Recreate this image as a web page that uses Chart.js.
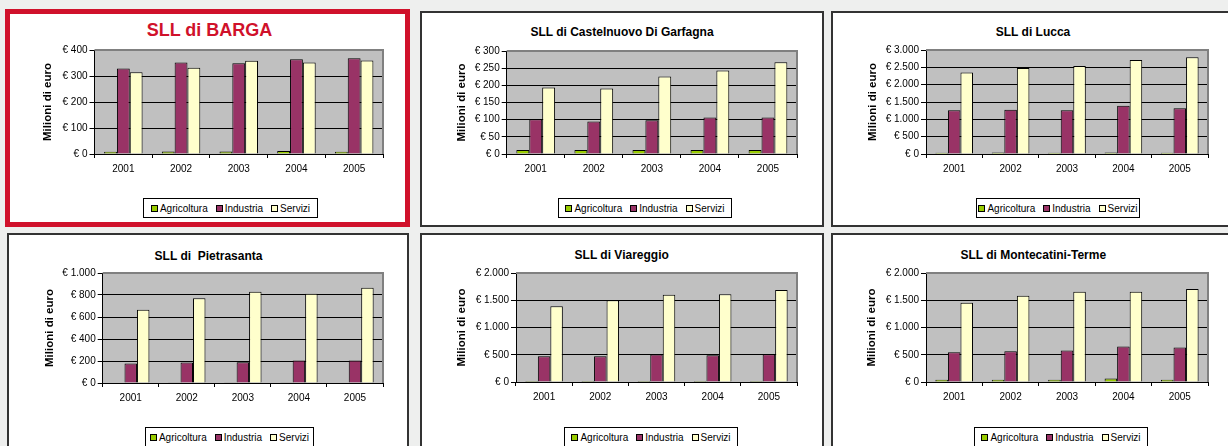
<!DOCTYPE html>
<html>
<head>
<meta charset="utf-8">
<script src="https://cdn.jsdelivr.net/npm/chart.js@4.4.0/dist/chart.umd.min.js"></script>
<style>
  body { margin: 0; background: #eeefee; width: 1228px; height: 446px; overflow: hidden; position: relative;
         font-family: "Liberation Sans", Arial, sans-serif; }
  .panel { position: absolute; box-sizing: border-box; background: #fff; border: 2px solid #333; }
  .panel.hl { border: 5px solid #d0112b; }
  .title { position: absolute; width: 320px; text-align: center; font-weight: bold; font-size: 12px;
           line-height: 14px; white-space: pre; color: #000; }
  .title.hl { color: #d0112b; font-size: 18px; line-height: 20px; }
  .legend { position: absolute; box-sizing: border-box; height: 20px; border: 1px solid #000; background: #fff;
            display: flex; align-items: center; justify-content: center; font-size: 10px; color: #000; }
  .legend .it { display: flex; align-items: center; margin: 0 4px; }
  .legend .sw { display: inline-block; width: 5px; height: 5px; border: 1px solid #000; margin-right: 2px; }
  .box { position: absolute; }
</style>
</head>
<body>
<script>
  const years = ["2001", "2002", "2003", "2004", "2005"];
  const seriesNames = ["Agricoltura", "Industria", "Servizi"];

  const bargaAgr = [9, 10, 10, 12, 9];
  const bargaInd = [329, 352, 349, 364, 368];
  const bargaSer = [314, 332, 359, 352, 360];

  const castelAgr = [12, 12, 12, 12, 12];
  const castelInd = [101, 95, 98, 106, 106];
  const castelSer = [194, 191, 226, 243, 267];

  const luccaAgr = [38, 40, 38, 42, 38];
  const luccaInd = [1264, 1273, 1264, 1389, 1322];
  const luccaSer = [2354, 2479, 2537, 2711, 2788];

  const pietraAgr = [4, 6, 6, 6, 4];
  const pietraInd = [177, 186, 189, 204, 204];
  const pietraSer = [665, 771, 829, 811, 866];

  const viaAgr = [18, 18, 18, 18, 18];
  const viaInd = [474, 474, 505, 492, 511];
  const viaSer = [1391, 1502, 1600, 1612, 1686];

  const monteAgr = [43, 43, 43, 62, 43];
  const monteInd = [548, 566, 578, 652, 634];
  const monteSer = [1452, 1582, 1655, 1655, 1705];

  const colors = ["#99cc00", "#993366", "#ffffcc"];
  const fontFamily = "'Liberation Sans', Arial, sans-serif";
  Chart.defaults.font.family = fontFamily;
  Chart.defaults.color = "#000";

  // panel frames: left, top, width, height
  const panels = [
    { r: [5, 9, 405, 218], hl: true },
    { r: [420, 11, 404, 216] },
    { r: [831, 11, 410, 216] },
    { r: [7, 233, 402, 240] },
    { r: [420, 233, 404, 240] },
    { r: [831, 233, 410, 240] },
  ];

  const charts = [
    { title: "SLL di BARGA", hl: true, series: [bargaAgr, bargaInd, bargaSer], max: 400, step: 100,
      plot: [94.5, 50, 383, 153.7], yTitleX: 48.3, titleX: 209.5, titleY: 20, legend: [143, 198, 175] },
    { title: "SLL di Castelnuovo Di Garfagna", series: [castelAgr, castelInd, castelSer], max: 300, step: 50,
      plot: [506.7, 51, 796.7, 153.7], yTitleX: 461.7, titleX: 622, titleY: 24.5, legend: [558, 198, 174] },
    { title: "SLL di Lucca", series: [luccaAgr, luccaInd, luccaSer], max: 3000, step: 500,
      plot: [926, 50, 1208.3, 153.7], yTitleX: 873.3, titleX: 1033, titleY: 24.5, legend: [976, 198, 164] },
    { title: "SLL di  Pietrasanta", series: [pietraAgr, pietraInd, pietraSer], max: 1000, step: 200,
      plot: [102.7, 273.3, 382.7, 382.7], yTitleX: 50, titleX: 208.5, titleY: 249, legend: [145, 427, 169] },
    { title: "SLL di Viareggio", series: [viaAgr, viaInd, viaSer], max: 2000, step: 500,
      plot: [516, 273.3, 797.3, 381.7], yTitleX: 461.7, titleX: 621.7, titleY: 248, legend: [564, 427, 174] },
    { title: "SLL di Montecatini-Terme", series: [monteAgr, monteInd, monteSer], max: 2000, step: 500,
      plot: [926, 273.3, 1208.3, 381.7], yTitleX: 871.7, titleX: 1033.3, titleY: 248, legend: [974, 427, 174] },
  ];

  const euro = (v) => "€ " + String(v).replace(/\B(?=(\d{3})+(?!\d))/g, ".");

  const plotFrame = {
    id: "plotFrame",
    beforeDraw(chart) {
      const { ctx, chartArea: a } = chart;
      ctx.save();
      ctx.fillStyle = "#c0c0c0";
      ctx.fillRect(a.left, a.top, a.right - a.left, a.bottom - a.top);
      ctx.restore();
    },
    afterDraw(chart) {
      const { ctx, chartArea: a } = chart;
      ctx.save();
      ctx.strokeStyle = "#808080";
      ctx.lineWidth = 2;
      ctx.beginPath();
      ctx.moveTo(a.left, a.top);
      ctx.lineTo(a.right, a.top);
      ctx.lineTo(a.right, a.bottom);
      ctx.stroke();
      ctx.restore();
    },
  };

  const add = (cls, css, text) => {
    const el = document.createElement("div");
    el.className = cls;
    Object.assign(el.style, css);
    if (text !== undefined) el.textContent = text;
    document.body.appendChild(el);
    return el;
  };

  panels.forEach((p) => {
    const [x, y, w, h] = p.r;
    add("panel" + (p.hl ? " hl" : ""), { left: x + "px", top: y + "px", width: w + "px", height: h + "px" });
  });

  charts.forEach((c) => {
    add("title" + (c.hl ? " hl" : ""), { left: c.titleX - 160 + "px", top: c.titleY + "px" }, c.title);

    const [lx, ly, lw] = c.legend;
    const lg = add("legend", { left: lx + "px", top: ly + "px", width: lw + "px" });
    seriesNames.forEach((name, i) => {
      const it = document.createElement("span");
      it.className = "it";
      const sw = document.createElement("span");
      sw.className = "sw";
      sw.style.background = colors[i];
      it.appendChild(sw);
      it.appendChild(document.createTextNode(name));
      lg.appendChild(it);
    });

    const [L, T, R, B] = c.plot;
    const x0 = Math.round(c.yTitleX - 7);
    const y0 = Math.round(T - 8);
    const w = Math.round(R + 4 - x0);
    const h = Math.round(B - y0 + 24);
    const yW = L - x0;
    const box = add("box", { left: x0 + "px", top: y0 + "px", width: w + "px", height: h + "px" });
    const canvas = document.createElement("canvas");
    box.appendChild(canvas);

    new Chart(canvas, {
      type: "bar",
      data: {
        labels: years,
        datasets: seriesNames.map((name, i) => ({
          label: name,
          data: c.series[i],
          backgroundColor: colors[i],
          borderColor: "#000",
          borderWidth: 1,
          categoryPercentage: 0.667,
          barPercentage: 1,
        })),
      },
      options: {
        responsive: true,
        maintainAspectRatio: false,
        animation: false,
        layout: { padding: { left: 0, right: 4, top: 8, bottom: 0 } },
        plugins: { legend: { display: false }, title: { display: false }, tooltip: { enabled: false } },
        scales: {
          x: {
            offset: true,
            grid: { offset: true, drawOnChartArea: false, color: "#000", tickLength: 4 },
            border: { color: "#000" },
            ticks: { color: "#000", font: { size: 10 }, padding: 5, maxRotation: 0, autoSkip: false },
            afterFit: (s) => { s.height = 24; },
          },
          y: {
            min: 0,
            max: c.max,
            grid: { color: "#000", tickLength: 5 },
            border: { color: "#000" },
            ticks: { stepSize: c.step, color: "#000", font: { size: 10 }, padding: 2, callback: (v) => euro(v) },
            title: { display: true, text: "Milioni di euro", color: "#000", font: { size: 11.5, weight: "bold" }, padding: 0 },
            afterFit: (s) => { s.width = yW; },
          },
        },
      },
      plugins: [plotFrame],
    });
  });
</script>
</body>
</html>
